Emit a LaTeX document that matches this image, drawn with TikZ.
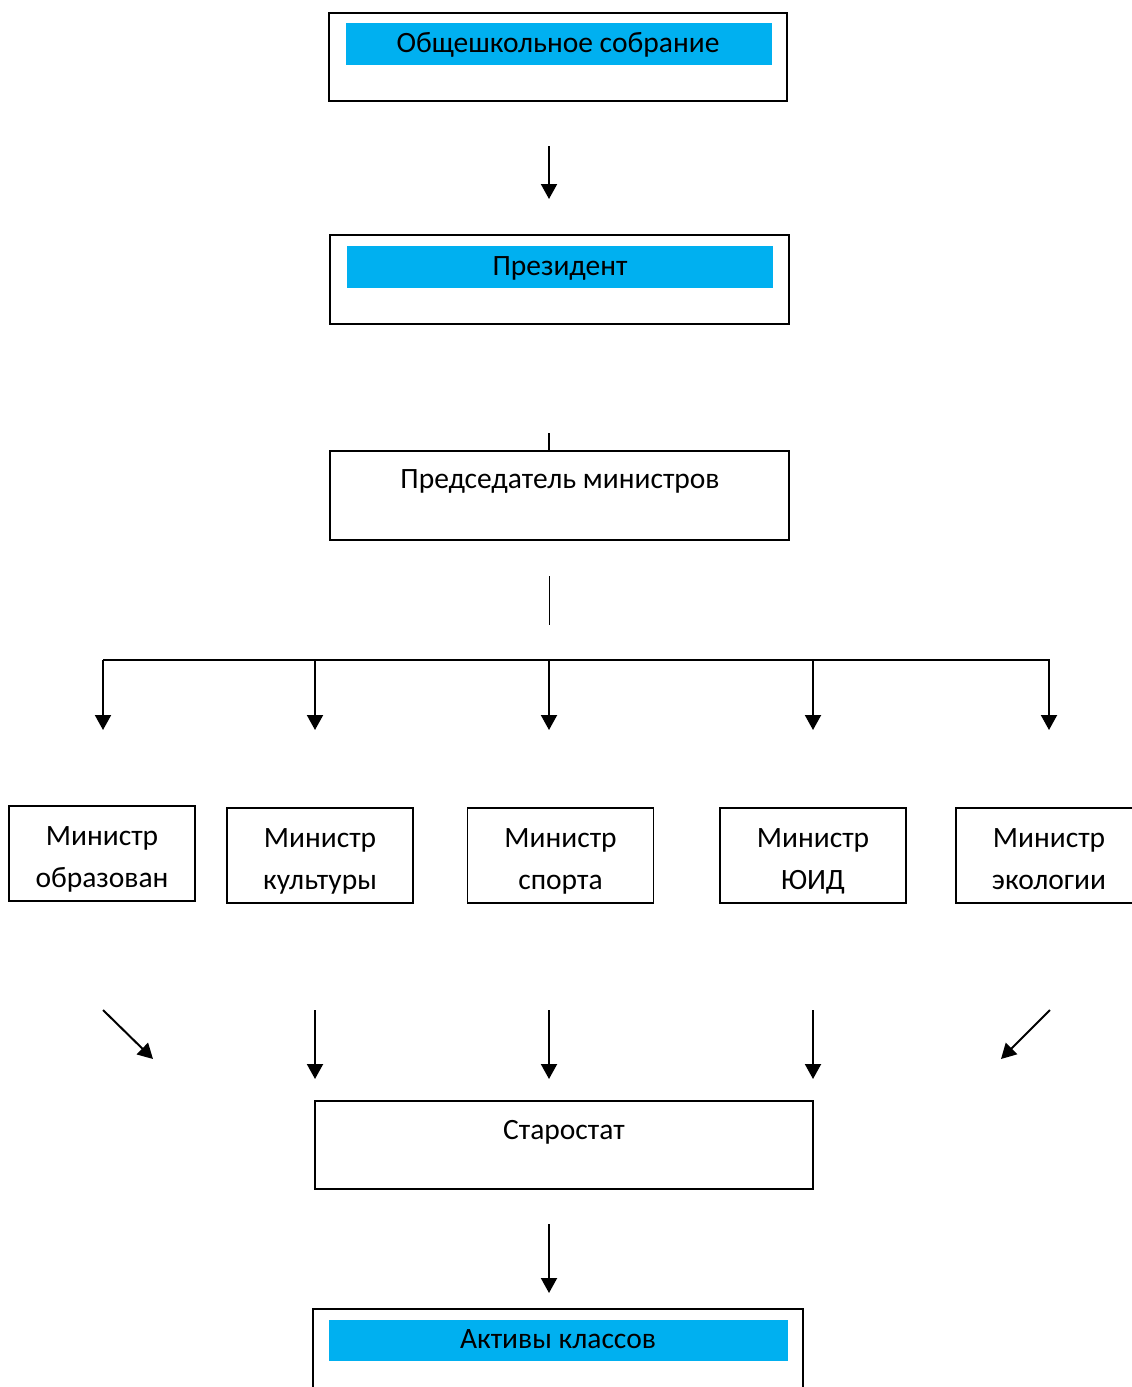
\documentclass[tikz,border=0pt]{standalone}
\usepackage{fontspec}
\setmainfont{Carlito}
\usetikzlibrary{arrows.meta}
\definecolor{skyblue}{HTML}{00B0F0}
\begin{document}
\begin{tikzpicture}[x=1pt,y=-1pt,
  frame/.style={draw=black, line width=1.8pt, minimum height=88pt, inner sep=0pt, outer sep=0pt},
  minbox/.style={draw=black, line width=1.8pt, minimum width=186pt, minimum height=95pt, inner sep=0pt, outer sep=0pt},
  band/.style={fill=skyblue, inner sep=0pt, outer sep=0pt, minimum height=42pt},
  lbl/.style={font=\fontsize{29.5}{36}\selectfont, anchor=base, inner sep=0pt, outer sep=0pt},
  arr/.style={line width=2pt, -{Triangle[width=16pt,length=15pt]}},
  link/.style={line width=2pt},
  thinlink/.style={line width=1pt}
]
\useasboundingbox (0,0) rectangle (1132,1387);

% top box
\node[frame, minimum width=458pt] (assembly) at (558,57) {};
\node[band, minimum width=426pt] (assemblyband) at (559,44) {};
\node[lbl] (assemblytxt) at (558,52) {Общешкольное собрание};

% president
\node[frame, minimum width=459pt, minimum height=89pt] (president) at (559.5,279.5) {};
\node[band, minimum width=426pt] (presidentband) at (560,267) {};
\node[lbl] (presidenttxt) at (560,275) {Президент};

% chairman
\node[frame, minimum width=459pt, minimum height=89pt] (chair) at (559.5,495.5) {};
\node[lbl] (chairtxt) at (560,488) {Председатель министров};

% ministers
\node[minbox] (m1) at (102,853.5) {};
\node[lbl] (m1a) at (102,845) {Министр};
\node[lbl] (m1b) at (102,887) {образован};

\node[minbox] (m2) at (320,855.5) {};
\node[lbl] (m2a) at (320,847) {Министр};
\node[lbl] (m2b) at (320,889) {культуры};

\node[minbox] (m3) at (560.5,855.5) {};
\node[lbl] (m3a) at (560.5,847) {Министр};
\node[lbl] (m3b) at (560.5,889) {спорта};

\node[minbox] (m4) at (813,855.5) {};
\node[lbl] (m4a) at (813,847) {Министр};
\node[lbl] (m4b) at (813,889) {ЮИД};

\node[minbox] (m5) at (1049,855.5) {};
\node[lbl] (m5a) at (1049,847) {Министр};
\node[lbl] (m5b) at (1049,889) {экологии};

% starostat
\node[frame, minimum width=498pt] (staro) at (564,1145) {};
\node[lbl] (starotxt) at (564,1139) {Старостат};

% class actives
\node[frame, minimum width=490pt] (actives) at (558,1353) {};
\node[band, minimum width=459pt, minimum height=41pt] (activesband) at (558.5,1340.5) {};
\node[lbl] (activestxt) at (558,1348) {Активы классов};

% connector coordinates
\coordinate (a1s) at (549,146);  \coordinate (a1e) at (549,199);
\coordinate (c1s) at (549,433);  \coordinate (c1e) at (549,451);
\coordinate (c2s) at (549,576);  \coordinate (c2e) at (549,625);
\coordinate (hl) at (103,660);   \coordinate (hr) at (1050,660);
\foreach \i/\x in {1/103,2/315,3/549,4/813,5/1049}{
  \coordinate (d\i s) at (\x,660);
  \coordinate (d\i e) at (\x,730);
}
\coordinate (l1s) at (103,1010); \coordinate (l1e) at (153,1059);
\coordinate (l2s) at (315,1010); \coordinate (l2e) at (315,1079);
\coordinate (l3s) at (549,1010); \coordinate (l3e) at (549,1079);
\coordinate (l4s) at (813,1010); \coordinate (l4e) at (813,1079);
\coordinate (l5s) at (1050,1010); \coordinate (l5e) at (1001,1059);
\coordinate (a2s) at (549,1224); \coordinate (a2e) at (549,1293);

\draw[arr] (a1s) -- (a1e);
\draw[link] (c1s) -- (c1e);
\draw[thinlink] (c2s) -- (c2e);
\draw[link] (hl) -- (hr);
\foreach \i in {1,...,5}{ \draw[arr] (d\i s) -- (d\i e); }
\foreach \i in {1,...,5}{ \draw[arr] (l\i s) -- (l\i e); }
\draw[arr] (a2s) -- (a2e);
\end{tikzpicture}
\end{document}
